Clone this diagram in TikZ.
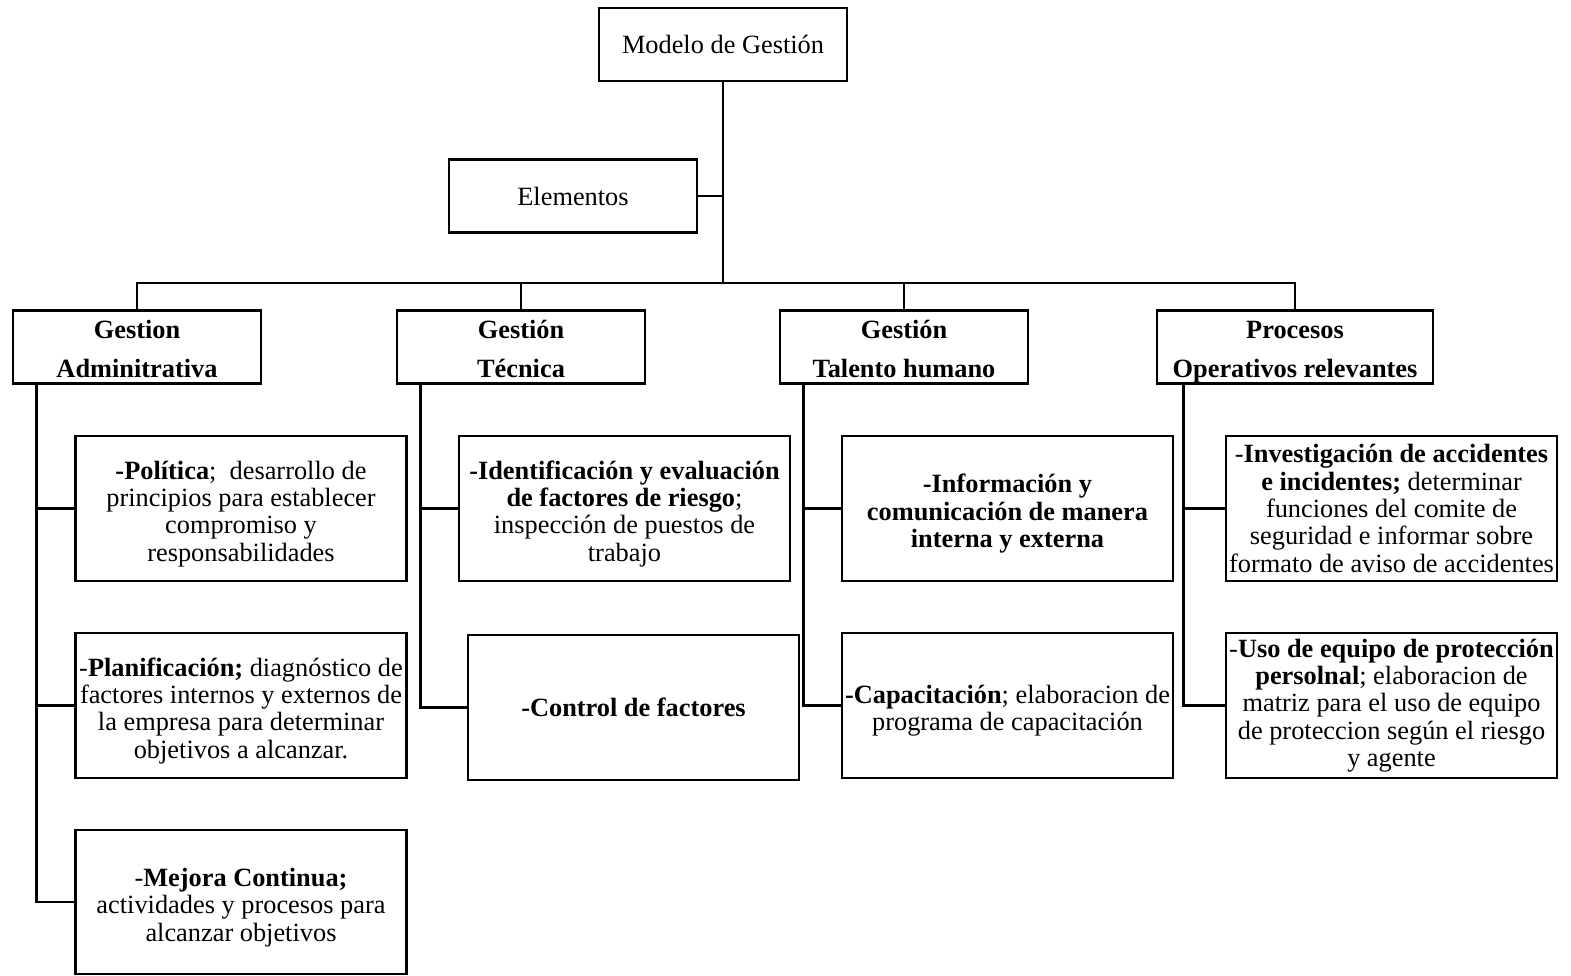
\documentclass[tikz,border=0pt]{standalone}
\usepackage{fontspec}
\setmainfont{Liberation Serif}
\usetikzlibrary{positioning}
\newcommand{\tope}{\rule{0pt}{18pt}}
\newcommand{\cab}{\rule{0pt}{15.5pt}}
\newcommand{\pie}{\rule[-3.3pt]{0pt}{0pt}}

\begin{document}
\begin{tikzpicture}[x=0.02cm, y=-0.02cm,
  caja/.style={shape=rectangle, draw=black, line width=1.6pt, minimum width=4.96cm, minimum height=1.46cm, align=center, inner sep=1pt, font={\fontsize{15}{15.6}\selectfont}},
  jefe/.style={caja, inner ysep=0pt, font={\fontsize{15}{15.6}\selectfont\bfseries}},
  hoja/.style={caja, minimum width=6.62cm, minimum height=2.9cm},
  linea/.style={-, line width=1.6pt, draw=black}]
\useasboundingbox (0,0) rectangle (1571,976);
% niveles superiores
\node[caja] (mod) at (723,44.5) {Modelo de Gestión};
\node[caja] (ele) at (573,196) {Elementos};
\coordinate (bus) at (723,283);
\node[jefe] (adm) at (137,347) {\cab Gestion\\[6.5pt]Adminitrativa\pie};
\node[jefe] (tec) at (521,347) {\cab Gestión\\[6.5pt]Técnica\pie};
\node[jefe] (tal) at (904,347) {\cab Gestión\\[6.5pt]Talento humano\pie};
\node[jefe, minimum width=5.52cm] (pro) at (1295,347) {\cab Procesos\\[6.5pt]Operativos relevantes\pie};
% hojas
\node[hoja] (pol) at (241,508.5) {\tope\textbf{-Política};\ \ desarrollo de\\principios para establecer\\compromiso y\\responsabilidades\strut};
\node[hoja] (pla) at (241,705.5) {\tope-\textbf{Planificación;} diagnóstico de\\factores internos y externos de\\la empresa para determinar\\objetivos a alcanzar.\strut};
\node[hoja, minimum height=2.88cm] (mej) at (241,902) {\tope-\textbf{Mejora Continua;}\\actividades y procesos para\\alcanzar objetivos\strut};
\node[hoja] (ide) at (624.5,508.5) {\tope\textbf{-Identificación y evaluación}\\\textbf{de factores de riesgo};\\inspección de puestos de\\trabajo\strut};
\node[hoja] (con) at (633.5,707.5) {\textbf{-Control de factores}};
\node[hoja] (inf) at (1007.5,508.5) {\tope\textbf{-Información y}\\\textbf{comunicación de manera}\\\textbf{interna y externa}\strut};
\node[hoja] (cap) at (1007.5,705.5) {\tope\textbf{-Capacitación}; elaboracion de\\programa de capacitación\strut};
\node[hoja] (inv) at (1391.5,508.5) {-\textbf{Investigación de accidentes}\\\textbf{e incidentes;} determinar\\funciones del comite de\\seguridad e informar sobre\\formato de aviso de accidentes};
\node[hoja] (uso) at (1391.5,705.5) {-\textbf{Uso de equipo de protección}\\\textbf{persolnal}; elaboracion de\\matriz para el uso de equipo\\de proteccion según el riesgo\\y agente};
% conectores
\path [linea] (mod) -- (bus);
\path [linea] (ele) -- (ele -| bus);
\foreach \n in {adm,tec,tal,pro}
  \path [linea] (\n) |- (bus);
\path [linea] ([xshift=0.5cm]adm.south west) |- (pol.west);
\path [linea] ([xshift=0.5cm]adm.south west) |- (pla.west);
\path [linea] ([xshift=0.5cm]adm.south west) |- (mej.west);
\path [linea] ([xshift=0.5cm]tec.south west) |- (ide.west);
\path [linea] ([xshift=0.5cm]tec.south west) |- (con.west);
\path [linea] ([xshift=0.5cm]tal.south west) |- (inf.west);
\path [linea] ([xshift=0.5cm]tal.south west) |- (cap.west);
\path [linea] ([xshift=0.56cm]pro.south west) |- (inv.west);
\path [linea] ([xshift=0.56cm]pro.south west) |- (uso.west);
\end{tikzpicture}
\end{document}
